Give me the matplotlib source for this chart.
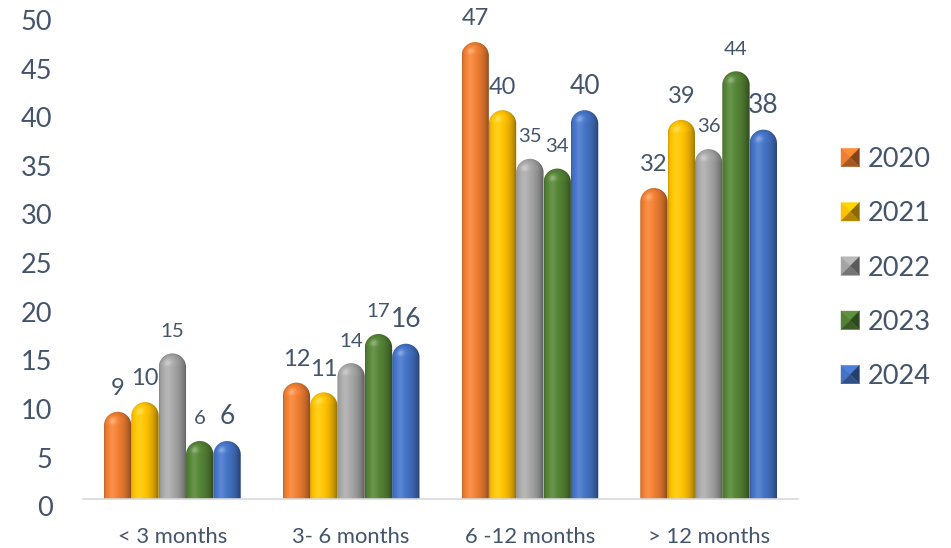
import numpy as np
import matplotlib
matplotlib.use('Agg')
import matplotlib.pyplot as plt
import matplotlib.colors as mcolors
import matplotlib.transforms as mtransforms
from matplotlib.patches import Polygon, Rectangle
from matplotlib.legend_handler import HandlerBase

categories = ['< 3 months', '3- 6 months', '6 -12 months', '> 12 months']
years = ['2020', '2021', '2022', '2023', '2024']
v2020 = [9, 12, 47, 32]
v2021 = [10, 11, 40, 39]
v2022 = [15, 14, 35, 36]
v2023 = [6, 17, 34, 44]
v2024 = [6, 16, 40, 38]
yticks = [0, 5, 10, 15, 20, 25, 30, 35, 40, 45, 50]

series = [v2020, v2021, v2022, v2023, v2024]
colors = ['#ED7D31', '#FFC000', '#A5A5A5', '#548235', '#4472C4']
label_sizes = [17, 17, 14.7, 14.7, 19]
text_color = '#44546A'

plt.rcParams['font.family'] = ['Lato', 'DejaVu Sans']

fig = plt.figure(figsize=(9.51, 5.48), dpi=100)
ax = fig.add_axes([83 / 951, 1 - 499.4 / 548, 715 / 951, 486.5 / 548])
ax.set_xlim(-0.5, 3.5)
ax.set_ylim(0, 50)

x = np.arange(len(categories))
bw = 0.153

# pixel scale
p0 = ax.transData.transform((0, 0))
p1 = ax.transData.transform((1, 1))
xpx = p1[0] - p0[0]
ypx = p1[1] - p0[1]

L = np.array([-0.45, 0.35, 1.0])
L = L / np.linalg.norm(L)


def shade_image(base, h, w):
    rx = w / 2
    ry = rx * xpx / ypx
    M = max(int(h * ypx), 4)
    N = 48
    u = np.linspace(-1, 1, N)
    yy = np.linspace(0, h, M)
    U, Y = np.meshgrid(u, yy)
    V = np.clip((Y - (h - ry)) / ry, 0, 1)
    nz = np.sqrt(np.clip(1 - U ** 2 - V ** 2, 0, 1))
    d = np.clip(U * L[0] + V * L[1] + nz * L[2], 0, 1)
    b = 0.62 + 0.45 * d
    spec = d ** 25 * 0.35
    rgb = np.array(mcolors.to_rgb(base))
    img = np.clip(rgb[None, None, :] * b[..., None], 0, 1)
    img = img * (1 - spec[..., None]) + spec[..., None]
    return np.dstack([img, np.ones((M, N))])


for i, (vals, col, yr) in enumerate(zip(series, colors, years)):
    offs = (i - 2) * bw
    bars = ax.bar(x + offs, vals, width=bw, color='none', edgecolor='none', label=yr)
    for rect, v in zip(bars, vals):
        x0 = rect.get_x()
        w = rect.get_width()
        h = rect.get_height()
        rx = w / 2
        ry = rx * xpx / ypx
        xc = x0 + rx
        th = np.linspace(0, np.pi, 60)
        arc = np.column_stack([xc + rx * np.cos(th), h - ry + ry * np.sin(th)])
        verts = np.vstack([[x0, 0], [x0 + w, 0], [x0 + w, h - ry], arc, [x0, h - ry]])
        poly = Polygon(verts, closed=True, facecolor='none', edgecolor='none')
        ax.add_patch(poly)
        im = ax.imshow(shade_image(col, h, w), extent=(x0, x0 + w, 0, h), origin='lower',
                       aspect='auto', interpolation='bilinear', zorder=2)
        im.set_clip_path(poly)
        ax.annotate(str(v), (xc, h), xytext=(0, 12), textcoords='offset points',
                    ha='center', va='baseline', fontsize=label_sizes[i], color=text_color)

ax.set_xlim(-0.5, 3.5)
ax.set_ylim(0, 50)
ax.set_xticks(x)
ax.set_xticklabels(categories)
ax.set_yticks(yticks)
ax.tick_params(axis='y', length=0, pad=22, labelsize=19.5, labelcolor=text_color)
ax.tick_params(axis='x', length=0, pad=20, labelsize=15.8, labelcolor=text_color)
shift = mtransforms.ScaledTranslation(0, -7 / 100, fig.dpi_scale_trans)
for lab in ax.get_yticklabels():
    lab.set_transform(lab.get_transform() + shift)
for s in ['top', 'right', 'left']:
    ax.spines[s].set_visible(False)
ax.spines['bottom'].set_color('#D9D9D9')
ax.spines['bottom'].set_linewidth(1.2)


class BevelHandler(HandlerBase):
    def create_artists(self, legend, orig_handle, xdescent, ydescent, width, height, fontsize, trans):
        c = np.array(mcolors.to_rgb(orig_handle.get_facecolor()))
        s = min(width, height)
        x0 = -xdescent
        y0 = -ydescent + (height - s) / 2
        cx, cy = x0 + s / 2, y0 + s / 2
        tl, tr, br, bl = (x0, y0 + s), (x0 + s, y0 + s), (x0 + s, y0), (x0, y0)
        tris = [([tl, tr, (cx, cy)], 1.12), ([tl, bl, (cx, cy)], 1.0),
                ([tr, br, (cx, cy)], 0.55), ([bl, br, (cx, cy)], 0.7)]
        arts = []
        for pts, f in tris:
            fc = np.clip(c * f, 0, 1)
            p = Polygon(pts, closed=True, facecolor=fc, edgecolor=fc, lw=0.3, transform=trans)
            arts.append(p)
        return arts


handles = [Rectangle((0, 0), 1, 1, facecolor=c) for c in colors]
leg = fig.legend(handles, years, loc='center left', bbox_to_anchor=(841 / 951, 1 - 268 / 548),
                 frameon=False, fontsize=19.5, handlelength=0.68, handleheight=0.68,
                 handletextpad=0.3, labelspacing=1.08, borderpad=0, borderaxespad=0,
                 handler_map={Rectangle: BevelHandler()})
for t in leg.get_texts():
    t.set_color(text_color)

fig.savefig('out.png', dpi=100)
